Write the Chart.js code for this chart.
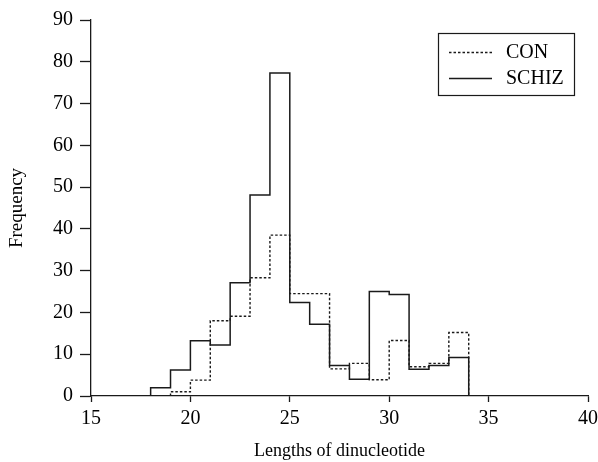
<!DOCTYPE html>
<html>
<head>
<meta charset="utf-8">
<script src="https://cdn.jsdelivr.net/npm/chart.js@4.4.1/dist/chart.umd.min.js"></script>
<style>
  html, body { margin: 0; padding: 0; background: #fff; }
  #wrap { width: 598px; height: 462px; }
</style>
</head>
<body>
<div id="wrap"><canvas id="histChart" width="598" height="462"></canvas></div>
<script>
// histogram bins: left edges of each length bin (width 1)
const binStarts = [18, 19, 20, 21, 22, 23, 24, 25, 26, 27, 28, 29, 30, 31, 32, 33];
const binEnd = 34;

// frequencies
const conCounts   = [0, 1.0, 3.8, 18.0, 19.1, 28.3, 38.5, 24.5, 24.5, 6.5, 7.8, 3.9, 13.3, 7.0, 7.8, 15.2];
const schizCounts = [2.0, 6.2, 13.2, 12.2, 27.1, 48.1, 77.3, 22.4, 17.2, 7.3, 4.0, 25.0, 24.3, 6.4, 7.3, 9.2];

const xTicks = [15, 20, 25, 30, 35, 40];
const yTicks = [0, 10, 20, 30, 40, 50, 60, 70, 80, 90];

const FONT = "'Liberation Serif', 'Times New Roman', serif";
const INK = "#1a1a1a";

// turn counts into step outline points (start at 0, close at 0)
function stepPoints(counts) {
  let first = counts.findIndex(v => v > 0);
  const pts = [{ x: binStarts[first], y: 0 }, { x: binStarts[first], y: counts[first] }];
  for (let i = first + 1; i < counts.length; i++) pts.push({ x: binStarts[i], y: counts[i] });
  pts.push({ x: binEnd, y: 0 });
  return pts;
}

// ---------- boxed legend inside the plot (top right) ----------
const boxLegend = {
  id: "boxLegend",
  afterDraw(chart) {
    const { ctx, chartArea } = chart;
    const left = chartArea.right - 150, top = chartArea.top + 13;
    const w = 136, h = 62;
    ctx.save();
    ctx.strokeStyle = INK;
    ctx.lineWidth = 1.2;
    ctx.setLineDash([]);
    ctx.strokeRect(left + 0.5, top + 0.5, w, h);
    ctx.font = "20px " + FONT;
    ctx.fillStyle = "#000";
    ctx.textBaseline = "middle";
    const rows = [chart.data.datasets[0], chart.data.datasets[1]];
    rows.forEach((ds, i) => {
      const y = top + 19 + i * 26;
      ctx.beginPath();
      ctx.lineWidth = ds.borderWidth;
      ctx.strokeStyle = ds.borderColor;
      ctx.setLineDash(ds.borderDash || []);
      ctx.moveTo(left + 11, y + 0.5);
      ctx.lineTo(left + 54, y + 0.5);
      ctx.stroke();
      ctx.setLineDash([]);
      ctx.fillText(ds.label, left + 68, y + 1);
    });
    ctx.restore();
  }
};

new Chart(document.getElementById("histChart"), {
  type: "line",
  data: {
    datasets: [
      { label: "CON", data: stepPoints(conCounts), borderColor: INK, borderWidth: 1.4,
        borderDash: [2.5, 2], stepped: "before", pointRadius: 0, fill: false, order: 1 },
      { label: "SCHIZ", data: stepPoints(schizCounts), borderColor: INK, borderWidth: 1.5,
        stepped: "before", pointRadius: 0, fill: false, order: 0 }
    ]
  },
  options: {
    responsive: false,
    animation: false,
    layout: { padding: { top: 20, right: 10, left: 0, bottom: 0 } },
    plugins: { legend: { display: false }, tooltip: { enabled: false } },
    scales: {
      x: {
        type: "linear", min: 15, max: 40,
        afterBuildTicks: s => { s.ticks = xTicks.map(v => ({ value: v })); },
        afterFit: s => { s.height = 66; s.paddingLeft = 0; s.paddingRight = 0; },
        border: { display: true, color: INK, width: 1.3 },
        grid: { display: true, drawOnChartArea: false, drawTicks: true, tickLength: 6, tickColor: INK, tickWidth: 1.3 },
        ticks: { color: "#000", font: { family: FONT, size: 20 }, padding: 5, maxRotation: 0 },
        title: { display: true, text: "Lengths of dinucleotide", color: "#000",
                 font: { family: FONT, size: 18 }, padding: { top: 0, bottom: 0 } }
      },
      y: {
        min: 0, max: 90,
        afterBuildTicks: s => { s.ticks = yTicks.map(v => ({ value: v })); },
        afterFit: s => { s.width = 91; },
        border: { display: true, color: INK, width: 1.3 },
        grid: { display: true, drawOnChartArea: false, drawTicks: true, tickLength: 11, tickColor: INK, tickWidth: 1.3 },
        ticks: { color: "#000", font: { family: FONT, size: 20 }, padding: 7 },
        title: { display: true, text: "Frequency", color: "#000",
                 font: { family: FONT, size: 19 }, padding: { top: 6, bottom: 0 } }
      }
    }
  },
  plugins: [boxLegend]
});
</script>
</body>
</html>
